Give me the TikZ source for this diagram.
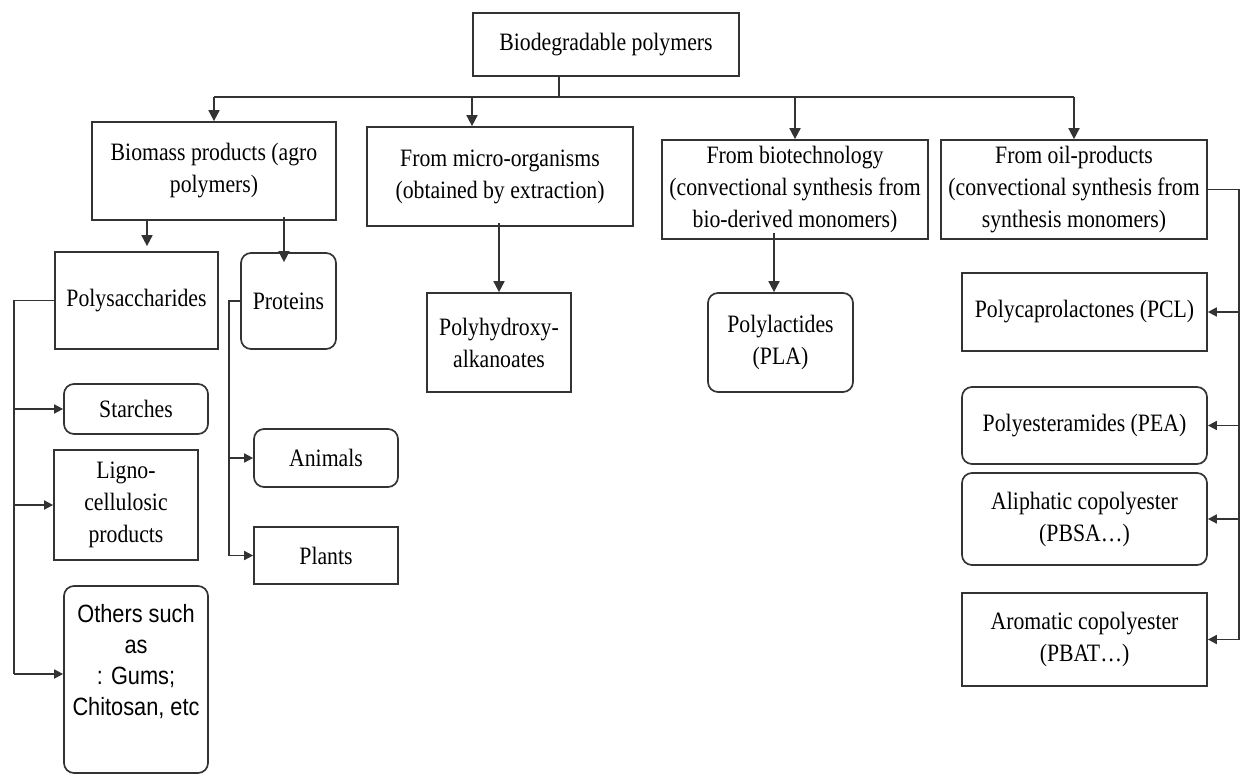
\documentclass[tikz,border=0pt]{standalone}
\usepackage{fontspec}
\setmainfont{Liberation Serif}[FakeStretch=0.87]
\newfontfamily\othersfont{Liberation Sans}[FakeStretch=0.87]
\usetikzlibrary{arrows.meta}
\definecolor{linegray}{HTML}{333333}

\begin{document}
\begin{tikzpicture}[x=0.5pt,y=-0.5pt,
  sz/.style 2 args={minimum width=#1*0.5pt, minimum height=#2*0.5pt},
  box/.style={draw=linegray, line width=0.85pt, align=center, inner sep=0pt,
              font=\fontsize{12.5}{16}\selectfont},
  rbox/.style={box, rounded corners=5pt},
  link/.style={draw=linegray, line width=0.85pt},
  bigarrow/.style={link, -{Triangle[length=5.5pt,width=5.5pt]}},
  smallarrow/.style={link, -{Triangle[length=4.5pt,width=4.5pt]}},
]
\useasboundingbox (0,0) rectangle (1240,774);

% top level
\node[box, sz={266}{63}] (root) at (606,44.5) {Biodegradable polymers};
\node[box, sz={244}{98}] (biomass) at (214,171) {Biomass products (agro\\polymers)};
\node[box, sz={266}{99}] (micro) at (500,176.5) {From micro-organisms\\(obtained by extraction)};
\node[box, sz={266}{99}] (biotech) at (795,189.5) {From biotechnology\\(convectional synthesis from\\bio-derived monomers)};
\node[box, sz={266}{99}] (oil) at (1074,189.5) {From oil-products\\(convectional synthesis from\\synthesis monomers)};

% agro polymers
\node[box, sz={163}{97}] (polysac) at (136.5,300.5) {Polysaccharides};
\node[rbox, sz={95}{96}] (proteins) at (288.5,301) {Proteins};
\node[rbox, sz={144}{50}] (starches) at (136,409) {Starches};
\node[box, sz={144}{110}] (ligno) at (126,505) {Ligno-\\cellulosic\\products};
\node[rbox, sz={144}{187}] (others) at (136,679.5) {};
\node[font=\othersfont\fontsize{12.5}{15.5}\selectfont, align=center, inner sep=0pt]
  (otherstext) at (136,661.5) {Others such\\as\\: Gums;\\Chitosan, etc};
\node[rbox, sz={144}{58}] (animals) at (326,458) {Animals};
\node[box, sz={144}{57}] (plants) at (326,555.5) {Plants};

% micro-organisms and biotechnology
\node[box, sz={144}{99}] (pha) at (499,342.5) {Polyhydroxy-\\alkanoates};
\node[rbox, sz={145}{99}] (pla) at (780.5,342.5) {Polylactides\\(PLA)};

% oil products
\node[box, sz={245}{78}] (pcl) at (1084.5,312) {Polycaprolactones (PCL)};
\node[rbox, sz={245}{77}] (pea) at (1084.5,425.5) {Polyesteramides (PEA)};
\node[rbox, sz={245}{92}] (aliph) at (1084.5,519) {Aliphatic copolyester\\(PBSA…)};
\node[box, sz={245}{93}] (arom) at (1084.5,639.5) {Aromatic copolyester\\(PBAT…)};

% main bus
\coordinate (stem) at (559,97);
\coordinate (microdrop) at (472,97);
\draw[link] (stem |- root.south) -- (stem);
\draw[link] (biomass.north |- stem) -- (oil.north |- stem);
\draw[bigarrow] (biomass.north |- stem) -- (biomass.north);
\draw[bigarrow] (microdrop) -- (microdrop |- micro.north);
\draw[bigarrow] (biotech.north |- stem) -- (biotech.north);
\draw[bigarrow] (oil.north |- stem) -- (oil.north);

% biomass branches
\coordinate (pd) at (147,236);
\coordinate (prd) at (284,236);
\draw[bigarrow, shorten <=-1pt, shorten >=2.5pt] (pd |- biomass.south) -- (pd |- polysac.north);
\draw[bigarrow, shorten <=-2pt, shorten >=-5pt] (prd |- biomass.south) -- (prd |- proteins.north);

% polysaccharides trunk
\coordinate (pt) at (14,674);
\draw[link] (polysac.west) -| (pt);
\draw[smallarrow] (pt |- starches.west) -- (starches.west);
\draw[smallarrow] (pt |- ligno.west) -- (ligno.west);
\draw[smallarrow] (pt) -- (pt -| others.west);

% proteins trunk
\coordinate (qt) at (229,555.5);
\draw[link] (proteins.west) -| (qt);
\draw[smallarrow] (qt |- animals.west) -- (animals.west);
\draw[smallarrow] (qt) -- (qt -| plants.west);

% single descendants
\coordinate (bd) at (774,260);
\draw[bigarrow, shorten <=-2pt] (pha.north |- micro.south) -- (pha.north);
\draw[bigarrow, shorten <=-3.5pt] (bd |- biotech.south) -- (bd |- pla.north);

% oil products trunk
\coordinate (ot) at (1239,639.5);
\draw[link] (oil.east) -| (ot);
\draw[smallarrow] (ot |- pcl.east) -- (pcl.east);
\draw[smallarrow] (ot |- pea.east) -- (pea.east);
\draw[smallarrow] (ot |- aliph.east) -- (aliph.east);
\draw[smallarrow] (ot) -- (arom.east);
\end{tikzpicture}
\end{document}
